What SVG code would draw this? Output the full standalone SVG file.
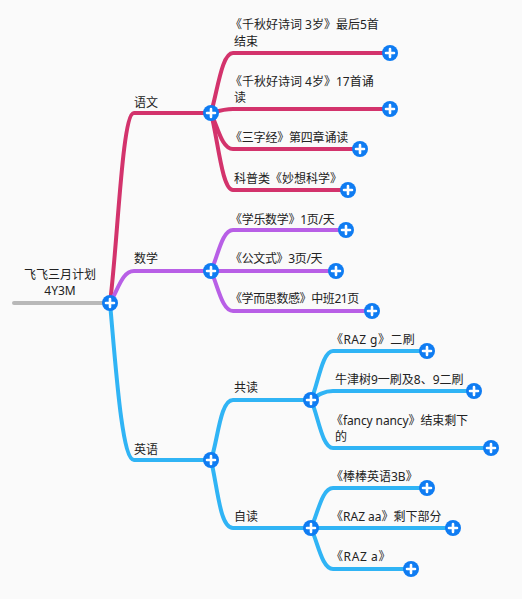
<svg xmlns="http://www.w3.org/2000/svg" width="522" height="599" viewBox="0 0 522 599">
<style>
.c{fill:none;stroke-width:4;stroke-linecap:round}
.r{stroke:#d3336c}.p{stroke:#b85fe6}.b{stroke:#30b4f5}
.g{stroke:#b8b8b8}
.d{fill:#0f7cf2}
.x{stroke:#fff;stroke-width:2.6;stroke-linecap:round;fill:none}
text{font-family:"Noto Sans","Noto Sans CJK SC",sans-serif;font-size:12px;fill:#222}
</style>
<defs><g id="plus"><circle class="d" r="8"/><path class="x" d="M-4 0H4M0-4V4"/></g></defs>
<rect width="522" height="599" fill="#fafafa"/>
<g id="connectors">
<path class="c g" d="M14 303H110"/>
<path class="c r" d="M110 303C118 240 122 113 134 113H211"/>
<path class="c p" d="M110 303C118 290 122 271 134 271H211"/>
<path class="c b" d="M110 303C116 370 122 460 134 460H211"/>
<path class="c r" d="M211 113C218 88 222 53 233 53H390"/>
<path class="c r" d="M211 113C218 111 224 109 233 109H390"/>
<path class="c r" d="M211 113C218 128 222 149 233 149H360"/>
<path class="c r" d="M211 113C218 140 222 190 233 190H348"/>
<path class="c p" d="M211 271C218 256 222 230 233 230H346"/>
<path class="c p" d="M211 271H336"/>
<path class="c p" d="M211 271C218 286 222 311 233 311H372"/>
<path class="c b" d="M211 460C218 440 220 400 233 400H311"/>
<path class="c b" d="M211 460C218 490 220 528 233 528H311"/>
<path class="c b" d="M311 400C318 385 322 351 333 351H427"/>
<path class="c b" d="M311 400C318 395 324 391 333 391H474"/>
<path class="c b" d="M311 400C318 415 322 448 333 448H491"/>
<path class="c b" d="M311 528C318 513 322 488 333 488H427"/>
<path class="c b" d="M311 528H453"/>
<path class="c b" d="M311 528C318 543 322 569 333 569H411"/>
</g>
<g id="root"><text x="60" y="279" text-anchor="middle">飞飞三月计划</text><text x="60" y="295" text-anchor="middle">4Y3M</text><use href="#plus" x="110" y="303"/></g>
<g id="n-yuwen"><text x="134" y="107">语文</text><use href="#plus" x="211" y="113"/></g>
<g id="n-y1"><text x="230" y="29">《千秋好诗词 3岁》最后5首</text><text x="234" y="46">结束</text><use href="#plus" x="390" y="53"/></g>
<g id="n-y2"><text x="230" y="86">《千秋好诗词 4岁》17首诵</text><text x="234" y="102">读</text><use href="#plus" x="390" y="109"/></g>
<g id="n-y3"><text x="230" y="142" letter-spacing="-0.2">《三字经》第四章诵读</text><use href="#plus" x="360" y="149"/></g>
<g id="n-y4"><text x="234" y="183">科普类《妙想科学》</text><use href="#plus" x="348" y="190"/></g>
<g id="n-shuxue"><text x="134" y="263">数学</text><use href="#plus" x="211" y="271"/></g>
<g id="n-s1"><text x="230" y="224" letter-spacing="-0.3">《学乐数学》1页/天</text><use href="#plus" x="346" y="230"/></g>
<g id="n-s2"><text x="230" y="263" letter-spacing="-0.35">《公文式》3页/天</text><use href="#plus" x="336" y="271"/></g>
<g id="n-s3"><text x="230" y="303" letter-spacing="-0.4">《学而思数感》中班21页</text><use href="#plus" x="372" y="311"/></g>
<g id="n-yingyu"><text x="134" y="454">英语</text><use href="#plus" x="211" y="460"/></g>
<g id="n-gongdu"><text x="234" y="392">共读</text><use href="#plus" x="311" y="400"/></g>
<g id="n-g1"><text x="331" y="344" letter-spacing="0.4">《RAZ g》二刷</text><use href="#plus" x="427" y="351"/></g>
<g id="n-g2"><text x="335" y="384">牛津树9一刷及8、9二刷</text><use href="#plus" x="474" y="391"/></g>
<g id="n-g3"><text x="331" y="425" letter-spacing="-0.1">《fancy nancy》结束剩下</text><text x="335" y="441">的</text><use href="#plus" x="491" y="448"/></g>
<g id="n-zidu"><text x="234" y="521">自读</text><use href="#plus" x="311" y="528"/></g>
<g id="n-z1"><text x="331" y="481">《棒棒英语3B》</text><use href="#plus" x="427" y="488"/></g>
<g id="n-z2"><text x="331" y="521">《RAZ aa》剩下部分</text><use href="#plus" x="453" y="528"/></g>
<g id="n-z3"><text x="331" y="561" letter-spacing="0.6">《RAZ a》</text><use href="#plus" x="411" y="569"/></g>
</svg>
